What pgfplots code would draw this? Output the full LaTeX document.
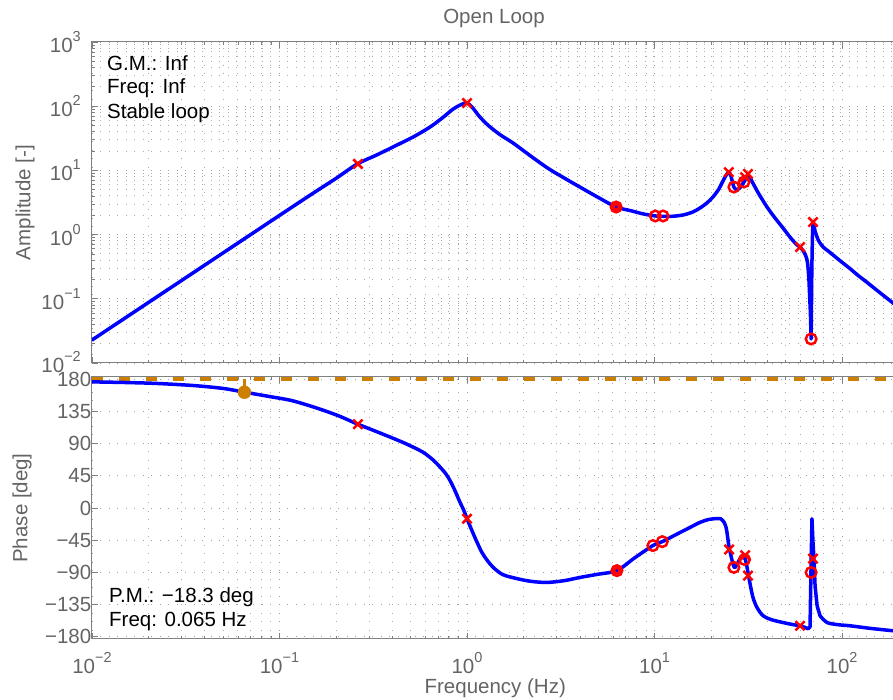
\documentclass[border=0pt]{standalone}
\usepackage{fontspec}
\setmainfont{Liberation Sans}
\usepackage{pgfplots}
\pgfplotsset{compat=1.18}
\definecolor{tickgray}{RGB}{100,100,100}
\definecolor{axgray}{RGB}{128,128,128}
\definecolor{mblue}{RGB}{0,0,255}
\definecolor{mred}{RGB}{255,0,0}
\definecolor{gold}{RGB}{204,127,0}
\newcommand{\ex}[1]{10\raisebox{11pt}{\fontsize{14.5}{14.5}\selectfont #1}}
\pgfplotsset{
  every axis/.append style={
  scale only axis, width=806.5pt, xmin=0.01, xmax=200,
  axis line style={axgray, line width=1pt},
  tick style={axgray, line width=0.8pt},
  major tick length=6pt, minor tick length=3pt, tick align=inside,
  grid style={gray!75, line width=0.9pt, dash pattern=on 0.9pt off 7.6pt},
  minor grid style={gray!65, line width=0.9pt, dash pattern=on 0.9pt off 7.6pt},
  xmajorgrids, xminorgrids,
  tick label style={font=\fontsize{20.5}{24}\selectfont, text=tickgray},
  label style={font=\fontsize{20.5}{24}\selectfont, text=tickgray},
  xtick={0.01,0.1,1,10,100},
 },
 curve/.style={mblue, line width=3.5pt, line join=round, line cap=round},
}
\begin{document}
\fontsize{20.5}{24}\selectfont
\begin{tikzpicture}
% ---------------- Amplitude ----------------
\begin{loglogaxis}[at={(0pt,276pt)}, anchor=south west, height=321pt,
  ymin=1e-2, ymax=1e3, ymajorgrids, yminorgrids,
  ytick={1e-2,1e-1,1,10,100,1000},
  yticklabels={\raisebox{3pt}{\ex{−2}},\ex{−1},\ex{0},\ex{1},\ex{2},\ex{3}},
  xticklabels={},
  yticklabel style={xshift=-9pt, inner sep=2pt},
  ylabel={Amplitude [-]},
  ylabel style={at={(axis description cs:-0.0831,0.5)}, anchor=center},
]
\addplot[curve, smooth, tension=0.5] table {
0.01 0.0228
0.02 0.0875
0.05 0.518
0.1 1.99
0.15 4.35
0.2 7.5
0.26 12.6
0.33 17.4
0.424 24.9
0.52 33.5
0.636 47.5
0.74 66
0.842 90
0.93 106
1.0 112
1.06 98
1.12 80
1.17 68
1.3 50
1.5 36
1.76 26.7
2.2 16.5
2.7 10.8
3.3 7.6
4.0 5.5
5.0 3.8
6.24 2.69
7.5 2.35
8.7 2.1
10.1 1.95
11.1 1.92
12.5 1.93
14.2 2.02
16 2.25
17.5 2.6
19 3.1
20.5 3.86
22 5.1
22.9 6.4
24.2 8.6
25 9.4
25.6 8.0
26.5 5.5
27.5 5.0
28.8 5.5
30 6.6
31.2 7.9
32.3 7.6
34 5.8
36 4.3
39.8 2.69
44 1.8
48.4 1.27
53 0.9
57.5 0.69
59.7 0.64
62 0.56
64 0.47
65.5 0.36
66.6 0.196
};
\addplot[curve] table {
66.6 0.196
67.8 0.06
68.4 0.0237
69.0 0.3
69.5 0.9
70 1.57
71 1.3
72 1.1
};
\addplot[curve, smooth, tension=0.5] table {
72 1.1
75 0.8
79.3 0.64
84 0.56
89.6 0.48
100 0.37
110 0.297
122 0.23
136 0.18
160 0.123
187 0.086
200 0.074
};
\addplot[only marks, mark=x, mark size=6.5pt, mred, line width=2.5pt] coordinates {
(0.262,12.6) (1.0,112) (24.9,9.4) (30.4,7.8) (31.5,8.8) (59.7,0.64) (70,1.57)};
\addplot[only marks, mark=o, mark size=5.3pt, mred, line width=2.5pt] coordinates {
(6.24,2.69) (10.1,1.95) (11.1,1.95) (26.5,5.5) (30.0,6.6) (68.4,0.0237)};
\addplot[only marks, mark=o, mark size=2.8pt, mred, line width=2.5pt] coordinates {(6.24,2.69)};
\end{loglogaxis}
% ---------------- Phase ----------------
\begin{semilogxaxis}[at={(0pt,0pt)}, anchor=south west, height=262pt,
  ymin=-183, ymax=183, ymajorgrids,
  ytick={-180,-135,-90,-45,0,45,90,135,180},
  yticklabels={−180,−135,−90,−45,0,45,90,135,180},
  yticklabel style={xshift=1.5pt, inner sep=2pt},
  xticklabels={\ex{−2},\ex{−1},\ex{0},\ex{1},\ex{2}},
  xticklabel style={yshift=-6pt},
  xlabel={Frequency (Hz)},
  xlabel style={at={(axis description cs:0.5,0)}, anchor=center, yshift=-49pt},
  ylabel={Phase [deg]},
  ylabel style={at={(axis description cs:-0.0868,0.5)}, anchor=center},
]
\addplot[gold, line width=3.5pt, dash pattern=on 11pt off 16pt] coordinates {(0.01,180) (200,180)};
\addplot[gold, line width=2.5pt] coordinates {(0.065,161.7) (0.065,180)};
\addplot[curve, smooth, tension=0.5] table {
0.01 176.2
0.015 175.3
0.0221 174
0.035 171
0.0501 167
0.0638 162.2
0.085 156.5
0.1138 150.6
0.14 144
0.171 136.6
0.21 128
0.262 117
0.32 108
0.388 99.2
0.47 90
0.58 78.2
0.66 67
0.718 57.2
0.77 48
0.811 38.5
0.86 25
0.91 10
0.96 -3
1.0 -15
1.06 -31
1.127 -47
1.2 -62
1.28 -73
1.38 -83
1.55 -93
1.85 -98.7
2.2 -102.5
2.67 -104
3.3 -101.5
4.0 -97
5.0 -92.5
6.3 -87.5
7.8 -70
9.8 -52.5
11 -47
13.5 -35
15.5 -27
17.5 -20
19.5 -16
21.5 -14.7
22.5 -15
23.5 -20
24.2 -30
25 -55
26.5 -82
27.5 -79
28.9 -69
30.4 -71
31.5 -90
32.3 -105.7
33.5 -125
35.2 -139
37.9 -150.5
42 -156
48.4 -160
55 -163
59.7 -164.5
63 -166.5
65.9 -168.7
};
\addplot[curve] table {
65.9 -168.7
67.5 -166
68.3 -87
69.1 -15
69.9 -45
70.9 -73.5
71.8 -108.5
73.6 -136.5
76.3 -150.5
};
\addplot[curve, smooth, tension=0.5] table {
76.3 -150.5
83.2 -160
95 -163
110 -164.5
140 -168
187 -171.5
200 -172
};
\addplot[only marks, mark=*, mark size=6.5pt, gold] coordinates {(0.065,161.7)};
\addplot[only marks, mark=x, mark size=6.5pt, mred, line width=2.5pt] coordinates {
(0.262,117) (1.0,-15) (25,-58) (30.4,-66) (31.5,-94.5) (59.7,-164.5) (70,-70.7)};
\addplot[only marks, mark=o, mark size=5.3pt, mred, line width=2.5pt] coordinates {
(6.3,-87.5) (9.8,-52.5) (11,-47) (26.5,-83) (30.2,-72) (68.4,-90)};
\addplot[only marks, mark=o, mark size=2.8pt, mred, line width=2.5pt] coordinates {(6.3,-87.5)};
\end{semilogxaxis}
\node[text=tickgray] at (402pt,621pt) {Open Loop};
\begin{scope}[every node/.style={inner sep=0pt, anchor=base west}]
\node at (15pt,568pt) {G.M.: Inf};
\node at (15pt,545pt) {Freq: Inf};
\node at (15pt,520pt) {Stable loop};
\node at (17pt,36pt) {P.M.: −18.3 deg};
\node at (17pt,12pt) {Freq: 0.065 Hz};
\end{scope}
\pgfresetboundingbox
\path (-92pt,-61pt) rectangle (801pt,639pt);
\end{tikzpicture}
\end{document}
